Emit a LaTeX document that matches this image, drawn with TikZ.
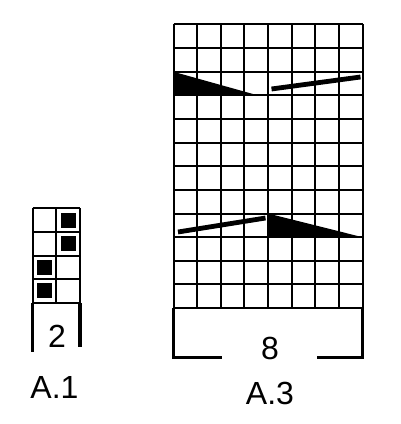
\documentclass[tikz,border=0pt]{standalone}
\usepackage{fontspec}
\setmainfont{Liberation Sans}
\begin{document}
\begin{tikzpicture}[x=0.75pt,y=-0.75pt]
\tikzset{chiffre/.style={inner sep=0pt, font=\fontsize{24}{28}\selectfont}}
\tikzset{trait/.style={line width=1.5pt}}
\tikzset{crochet/.style={line width=2.4pt}}
\tikzset{maille/.style={fill=black}}
\useasboundingbox (0,0) rectangle (400,424);
% A.1
\foreach \i in {0,...,2} \draw[trait] (32.7+\i*23.65,208.3) -- (32.7+\i*23.65,302.9);
\foreach \j in {0,...,4} \draw[trait] (32.7,208.3+\j*23.65) -- (80,208.3+\j*23.65);
\foreach \c/\r in {1/0, 1/1, 0/2, 0/3}
  \fill[maille] (36.9+\c*23.65,212.5+\r*23.65) rectangle ++(15,15);
\draw[crochet] (32.7,302.9) -- (32.7,351.7);
\draw[crochet] (80,302.9) -- (80,346.7);
\node[chiffre] (deux) at (57,336) {2};
\node[chiffre] (nomA) at (54.5,387) {A.1};
% A.3
\foreach \i in {0,...,8} \draw[trait] (173.5+\i*23.63,24.5) -- (173.5+\i*23.63,308.1);
\foreach \j in {0,...,12} \draw[trait] (173.5,24.5+\j*23.63) -- (362.5,24.5+\j*23.63);
\fill[maille] (173.5,71.8) -- (173.5,95.4) -- (258,95.4) -- cycle;
\draw[line width=3.6pt] (271.5,89) -- (360.5,77);
\draw[line width=3.6pt] (178,232) -- (265.5,218);
\fill[maille] (268,213.5) -- (268,237.2) -- (362.5,237.2) -- cycle;
\draw[crochet] (173.5,308.1) -- (173.5,357.3) -- (222,357.3);
\draw[crochet] (317,357.3) -- (362.5,357.3) -- (362.5,308.1);
\node[chiffre] (huit) at (270,348) {8};
\node[chiffre] (nomB) at (270,393) {A.3};
\end{tikzpicture}
\end{document}
